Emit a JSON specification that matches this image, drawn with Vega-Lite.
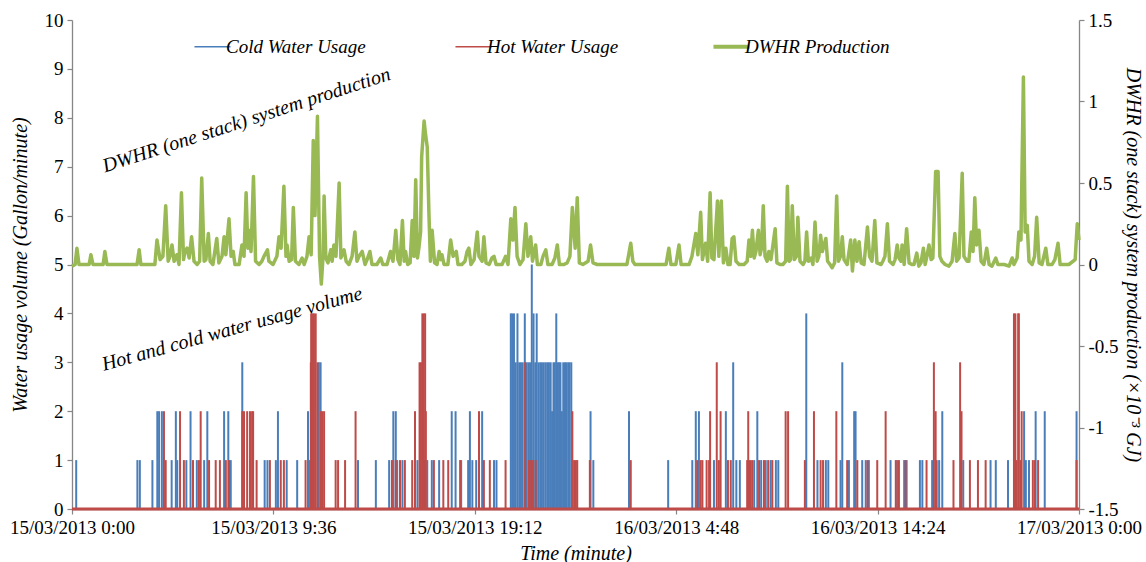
{
  "$schema": "https://vega.github.io/schema/vega-lite/v6.json",
  "width": 1007,
  "height": 489,
  "autosize": {"type": "none"},
  "padding": {"left": 72, "top": 20, "right": 67, "bottom": 53},
  "background": "white",
  "config": {
    "view": {"stroke": null},
    "font": "Liberation Serif, Times New Roman, serif",
    "axis": {
      "grid": false,
      "domainColor": "#868686",
      "tickColor": "#868686",
      "domainWidth": 1.3,
      "tickWidth": 1.2,
      "tickSize": 5,
      "labelColor": "black",
      "labelFont": "Liberation Serif, Times New Roman, serif",
      "labelFontSize": 19,
      "titleFont": "Liberation Serif, Times New Roman, serif",
      "titleFontSize": 20,
      "titleFontStyle": "italic",
      "titleFontWeight": "normal",
      "titleColor": "black"
    }
  },
  "datasets": {
    "cold": [
      {"t":12,"v":1},{"t":187,"v":1},{"t":194,"v":1},{"t":230,"v":1},{"t":244,"v":2},{"t":249,"v":2},{"t":257,"v":2},{"t":285,"v":1},{"t":297,"v":2},{"t":301,"v":1},{"t":327,"v":1},{"t":339,"v":2},{"t":357,"v":1},{"t":378,"v":1},{"t":387,"v":2},{"t":435,"v":2},{"t":447,"v":2},{"t":454,"v":1},{"t":487,"v":3},{"t":551,"v":1},{"t":559,"v":1},{"t":583,"v":1},{"t":589,"v":2},{"t":614,"v":1},{"t":644,"v":1},{"t":675,"v":2},{"t":706,"v":3},{"t":711,"v":3},{"t":818,"v":1},{"t":869,"v":1},{"t":907,"v":1},{"t":919,"v":2},{"t":926,"v":2},{"t":930,"v":1},{"t":945,"v":1},{"t":988,"v":1},{"t":1007,"v":1},{"t":1016,"v":1},{"t":1029,"v":1},{"t":1050,"v":1},{"t":1086,"v":2},{"t":1097,"v":2},{"t":1113,"v":1},{"t":1133,"v":1},{"t":1138,"v":2},{"t":1145,"v":1},{"t":1156,"v":1},{"t":1173,"v":2},{"t":1207,"v":1},{"t":1214,"v":1},
      {"t":1255,"v":4},{"t":1259,"v":4},{"t":1264,"v":4},{"t":1269,"v":3},{"t":1274,"v":4},{"t":1279,"v":3},{"t":1284,"v":3},{"t":1289,"v":3},{"t":1295,"v":4},{"t":1300,"v":3},{"t":1305,"v":3},{"t":1310,"v":3},{"t":1315,"v":5},{"t":1320,"v":4},{"t":1325,"v":3},{"t":1329,"v":4},{"t":1334,"v":3},{"t":1339,"v":3},{"t":1344,"v":3},{"t":1349,"v":3},{"t":1354,"v":3},{"t":1359,"v":3},{"t":1364,"v":3},{"t":1369,"v":3},{"t":1373,"v":2},{"t":1377,"v":3},{"t":1381,"v":3},{"t":1385,"v":4},{"t":1389,"v":3},{"t":1393,"v":3},{"t":1397,"v":3},{"t":1401,"v":2},{"t":1405,"v":3},{"t":1410,"v":3},{"t":1414,"v":3},{"t":1419,"v":3},{"t":1423,"v":3},{"t":1428,"v":3},
      {"t":1483,"v":2},{"t":1491,"v":1},{"t":1593,"v":2},{"t":1705,"v":1},{"t":1774,"v":1},{"t":1784,"v":2},{"t":1793,"v":2},{"t":1836,"v":1},{"t":1870,"v":2},{"t":1891,"v":3},{"t":1900,"v":1},{"t":1910,"v":1},{"t":1951,"v":1},{"t":1960,"v":2},{"t":1971,"v":1},{"t":1984,"v":1},{"t":1998,"v":1},{"t":2013,"v":1},{"t":2020,"v":1},{"t":2100,"v":4},{"t":2132,"v":1},{"t":2156,"v":1},{"t":2163,"v":1},{"t":2198,"v":1},{"t":2203,"v":3},{"t":2222,"v":1},{"t":2237,"v":2},{"t":2241,"v":2},{"t":2260,"v":1},{"t":2270,"v":1},{"t":2279,"v":1},{"t":2341,"v":1},{"t":2360,"v":1},{"t":2380,"v":1},{"t":2387,"v":1},{"t":2425,"v":1},{"t":2432,"v":1},{"t":2460,"v":1},{"t":2480,"v":1},{"t":2489,"v":2},{"t":2549,"v":1},{"t":2627,"v":1},{"t":2642,"v":1},{"t":2677,"v":1},{"t":2723,"v":2},{"t":2728,"v":1},{"t":2737,"v":1},{"t":2756,"v":2},{"t":2782,"v":2},{"t":2873,"v":2}
    ],
    "hot": [
      {"t":263,"v":2},{"t":268,"v":1},{"t":309,"v":2},{"t":320,"v":1},{"t":346,"v":1},{"t":363,"v":1},{"t":368,"v":2},{"t":392,"v":1},{"t":411,"v":1},{"t":423,"v":1},{"t":440,"v":1},{"t":449,"v":1},{"t":487,"v":2},{"t":492,"v":2},{"t":501,"v":2},{"t":509,"v":2},{"t":515,"v":2},{"t":518,"v":2},{"t":528,"v":1},{"t":566,"v":1},{"t":597,"v":1},{"t":606,"v":1},{"t":668,"v":1},{"t":681,"v":1},{"t":683,"v":3},{"t":684,"v":4},{"t":688,"v":4},{"t":692,"v":4},{"t":697,"v":4},{"t":702,"v":3},{"t":712,"v":2},{"t":716,"v":2},{"t":721,"v":2},{"t":754,"v":1},{"t":761,"v":1},{"t":781,"v":1},{"t":811,"v":2},{"t":915,"v":1},{"t":926,"v":1},{"t":938,"v":1},{"t":952,"v":1},{"t":973,"v":1},{"t":981,"v":2},{"t":994,"v":3},{"t":998,"v":3},{"t":1002,"v":4},{"t":1006,"v":4},{"t":1010,"v":4},{"t":1012,"v":2},{"t":1035,"v":1},{"t":1062,"v":1},{"t":1076,"v":1},{"t":1110,"v":1},{"t":1164,"v":2},{"t":1178,"v":1},{"t":1195,"v":1},{"t":1240,"v":1},{"t":1296,"v":3},{"t":1307,"v":1},{"t":1313,"v":1},{"t":1318,"v":1},{"t":1326,"v":1},{"t":1431,"v":2},{"t":1436,"v":1},{"t":1441,"v":1},{"t":1445,"v":1},{"t":1481,"v":1},{"t":1598,"v":1},{"t":1788,"v":1},{"t":1798,"v":1},{"t":1803,"v":1},{"t":1815,"v":1},{"t":1822,"v":1},{"t":1825,"v":2},{"t":1844,"v":3},{"t":1850,"v":1},{"t":1855,"v":2},{"t":1876,"v":1},{"t":1884,"v":1},{"t":1931,"v":1},{"t":1934,"v":2},{"t":1939,"v":1},{"t":1945,"v":1},{"t":1965,"v":1},{"t":1979,"v":1},{"t":1991,"v":1},{"t":2003,"v":1},{"t":2041,"v":2},{"t":2048,"v":2},{"t":2096,"v":1},{"t":2122,"v":2},{"t":2141,"v":1},{"t":2148,"v":1},{"t":2186,"v":2},{"t":2217,"v":1},{"t":2246,"v":1},{"t":2275,"v":1},{"t":2303,"v":1},{"t":2327,"v":2},{"t":2356,"v":1},{"t":2365,"v":1},{"t":2384,"v":1},{"t":2444,"v":1},{"t":2465,"v":3},{"t":2470,"v":2},{"t":2473,"v":1},{"t":2521,"v":1},{"t":2540,"v":3},{"t":2544,"v":2},{"t":2568,"v":1},{"t":2591,"v":1},{"t":2613,"v":1},{"t":2694,"v":4},{"t":2698,"v":4},{"t":2701,"v":1},{"t":2706,"v":4},{"t":2708,"v":4},{"t":2713,"v":1},{"t":2716,"v":2},{"t":2748,"v":1},{"t":2754,"v":1},{"t":2763,"v":1},{"t":2873,"v":1}
    ],
    "zero": [{"t":0,"v":0},{"t":2880,"v":0}],
    "dwhr": [
      {"t":0,"v":-0.01},{"t":9,"v":0},{"t":14,"v":0.1},{"t":20,"v":0},{"t":49,"v":0},{"t":54,"v":0.06},{"t":60,"v":0},{"t":89,"v":0},{"t":94,"v":0.08},{"t":100,"v":0},{"t":186,"v":0},{"t":192,"v":0.09},{"t":197,"v":0},{"t":237,"v":0},{"t":243,"v":0.15},{"t":252,"v":0.03},{"t":260,"v":0.05},{"t":268,"v":0.36},{"t":275,"v":0.02},{"t":280,"v":0.05},{"t":286,"v":0.12},{"t":292,"v":0.02},{"t":300,"v":0.06},{"t":306,"v":0},{"t":313,"v":0.44},{"t":319,"v":0.03},{"t":323,"v":0.08},{"t":329,"v":0.1},{"t":335,"v":0.04},{"t":342,"v":0.17},{"t":349,"v":0.02},{"t":358,"v":0},{"t":365,"v":0.02},{"t":371,"v":0.53},{"t":378,"v":0.02},{"t":383,"v":0.03},{"t":390,"v":0.19},{"t":395,"v":0.02},{"t":403,"v":0},{"t":414,"v":0.16},{"t":420,"v":0.01},{"t":429,"v":0.05},{"t":435,"v":0.17},{"t":440,"v":0.06},{"t":449,"v":0.28},{"t":455,"v":0.05},{"t":461,"v":0.08},{"t":466,"v":0},{"t":478,"v":0},{"t":486,"v":0.12},{"t":492,"v":0.05},{"t":498,"v":0.44},{"t":503,"v":0.1},{"t":506,"v":0.21},{"t":512,"v":0.08},{"t":519,"v":0.54},{"t":525,"v":0.02},{"t":535,"v":0},{"t":543,"v":0.02},{"t":549,"v":0.05},{"t":559,"v":0.09},{"t":563,"v":0.02},{"t":575,"v":0},{"t":586,"v":0.05},{"t":592,"v":0.17},{"t":598,"v":0.1},{"t":606,"v":0.48},{"t":612,"v":0.05},{"t":615,"v":0.12},{"t":621,"v":0.02},{"t":628,"v":0.03},{"t":633,"v":0.35},{"t":639,"v":0.02},{"t":649,"v":0},{"t":658,"v":0.04},{"t":664,"v":0},{"t":672,"v":0.05},{"t":678,"v":0.17},{"t":684,"v":0.06},{"t":690,"v":0.76},{"t":695,"v":0.3},{"t":702,"v":0.91},{"t":708,"v":0.05},{"t":713,"v":-0.12},{"t":718,"v":0.05},{"t":721,"v":0.42},{"t":726,"v":0.04},{"t":732,"v":0.01},{"t":740,"v":0.09},{"t":744,"v":0.02},{"t":749,"v":0.12},{"t":755,"v":0.05},{"t":764,"v":0.5},{"t":769,"v":0.04},{"t":778,"v":0.09},{"t":784,"v":0.02},{"t":792,"v":0},{"t":801,"v":0.05},{"t":809,"v":0.2},{"t":815,"v":0.02},{"t":821,"v":0.05},{"t":830,"v":0.08},{"t":838,"v":0},{"t":844,"v":0.03},{"t":852,"v":0.08},{"t":858,"v":0},{"t":872,"v":0},{"t":883,"v":0.04},{"t":889,"v":0},{"t":901,"v":0},{"t":911,"v":0.08},{"t":918,"v":0.02},{"t":926,"v":0.21},{"t":932,"v":0.03},{"t":938,"v":0},{"t":945,"v":0.27},{"t":950,"v":0.02},{"t":954,"v":0.08},{"t":960,"v":0},{"t":967,"v":0.01},{"t":973,"v":0.27},{"t":978,"v":0.05},{"t":983,"v":0.52},{"t":988,"v":0.04},{"t":992,"v":0.1},{"t":997,"v":0.2},{"t":1000,"v":0.66},{"t":1007,"v":0.88},{"t":1011,"v":0.8},{"t":1016,"v":0.72},{"t":1021,"v":0.3},{"t":1025,"v":0.02},{"t":1030,"v":0.21},{"t":1037,"v":0.01},{"t":1044,"v":0},{"t":1050,"v":0.08},{"t":1055,"v":0.03},{"t":1058,"v":0.06},{"t":1064,"v":0},{"t":1075,"v":0},{"t":1083,"v":0.15},{"t":1090,"v":0.05},{"t":1099,"v":0.08},{"t":1104,"v":0},{"t":1115,"v":0},{"t":1124,"v":0.02},{"t":1130,"v":0.08},{"t":1135,"v":0.1},{"t":1141,"v":0},{"t":1150,"v":0.03},{"t":1159,"v":0.2},{"t":1164,"v":0.05},{"t":1173,"v":0.02},{"t":1178,"v":0.17},{"t":1184,"v":0.01},{"t":1193,"v":0},{"t":1201,"v":0.04},{"t":1207,"v":0.05},{"t":1213,"v":0},{"t":1230,"v":0},{"t":1240,"v":0.05},{"t":1247,"v":0},{"t":1255,"v":0.28},{"t":1261,"v":0.15},{"t":1267,"v":0.35},{"t":1273,"v":0.05},{"t":1281,"v":0},{"t":1290,"v":0.03},{"t":1298,"v":0.25},{"t":1304,"v":0.05},{"t":1312,"v":0.17},{"t":1317,"v":0.02},{"t":1326,"v":0.12},{"t":1331,"v":0},{"t":1341,"v":0},{"t":1347,"v":0.05},{"t":1355,"v":0.09},{"t":1361,"v":0},{"t":1373,"v":0},{"t":1381,"v":0.04},{"t":1388,"v":0.12},{"t":1394,"v":0},{"t":1407,"v":0},{"t":1416,"v":0.01},{"t":1424,"v":0.05},{"t":1431,"v":0.35},{"t":1439,"v":0.1},{"t":1445,"v":0.41},{"t":1451,"v":0.01},{"t":1461,"v":0},{"t":1476,"v":0.02},{"t":1483,"v":0.12},{"t":1490,"v":0.01},{"t":1502,"v":0},{"t":1587,"v":0},{"t":1598,"v":0.13},{"t":1604,"v":0.02},{"t":1610,"v":0},{"t":1699,"v":0},{"t":1707,"v":0.1},{"t":1713,"v":0},{"t":1727,"v":0},{"t":1736,"v":0.12},{"t":1742,"v":0},{"t":1765,"v":0},{"t":1773,"v":0.05},{"t":1784,"v":0.19},{"t":1790,"v":0.06},{"t":1798,"v":0.32},{"t":1803,"v":0.03},{"t":1812,"v":0.13},{"t":1818,"v":0.02},{"t":1825,"v":0.44},{"t":1830,"v":0.04},{"t":1836,"v":0.03},{"t":1846,"v":0.39},{"t":1850,"v":0.05},{"t":1857,"v":0.39},{"t":1863,"v":0.01},{"t":1870,"v":0.1},{"t":1876,"v":0},{"t":1882,"v":0},{"t":1888,"v":0.16},{"t":1893,"v":0.17},{"t":1899,"v":0.02},{"t":1908,"v":0},{"t":1922,"v":0},{"t":1931,"v":0.02},{"t":1936,"v":0.15},{"t":1941,"v":0.05},{"t":1946,"v":0.21},{"t":1951,"v":0.04},{"t":1956,"v":0.08},{"t":1963,"v":0.21},{"t":1968,"v":0.06},{"t":1972,"v":0.1},{"t":1977,"v":0.36},{"t":1982,"v":0.05},{"t":1988,"v":0.02},{"t":1993,"v":0.08},{"t":1999,"v":0.03},{"t":2011,"v":0.22},{"t":2016,"v":0.01},{"t":2025,"v":0},{"t":2033,"v":0},{"t":2041,"v":0.02},{"t":2046,"v":0.48},{"t":2051,"v":0.02},{"t":2055,"v":0.03},{"t":2060,"v":0.36},{"t":2066,"v":0.03},{"t":2072,"v":0.05},{"t":2076,"v":0.29},{"t":2082,"v":0.02},{"t":2091,"v":0},{"t":2096,"v":0.02},{"t":2101,"v":0.2},{"t":2106,"v":0.02},{"t":2114,"v":0.04},{"t":2119,"v":0},{"t":2125,"v":0.26},{"t":2131,"v":0.02},{"t":2136,"v":0.05},{"t":2141,"v":0.18},{"t":2146,"v":0.08},{"t":2156,"v":0.16},{"t":2161,"v":0.02},{"t":2168,"v":0},{"t":2174,"v":-0.02},{"t":2181,"v":0.01},{"t":2187,"v":0.42},{"t":2192,"v":0.02},{"t":2198,"v":0.05},{"t":2203,"v":0.17},{"t":2208,"v":0.03},{"t":2217,"v":0},{"t":2227,"v":0.15},{"t":2232,"v":-0.04},{"t":2239,"v":0.15},{"t":2245,"v":0.02},{"t":2251,"v":0.14},{"t":2257,"v":0.01},{"t":2265,"v":0},{"t":2275,"v":0.23},{"t":2281,"v":0.05},{"t":2288,"v":0.02},{"t":2296,"v":0.27},{"t":2302,"v":0.01},{"t":2314,"v":0},{"t":2319,"v":0.02},{"t":2325,"v":0.05},{"t":2332,"v":0.25},{"t":2338,"v":0.02},{"t":2348,"v":0},{"t":2354,"v":0.03},{"t":2360,"v":0.12},{"t":2365,"v":0.04},{"t":2371,"v":0.02},{"t":2374,"v":0.12},{"t":2380,"v":0},{"t":2387,"v":0.22},{"t":2394,"v":0.01},{"t":2402,"v":0},{"t":2408,"v":0},{"t":2416,"v":0.07},{"t":2422,"v":-0.01},{"t":2428,"v":0.01},{"t":2435,"v":0.1},{"t":2440,"v":0},{"t":2445,"v":0.05},{"t":2451,"v":0.12},{"t":2457,"v":0.03},{"t":2462,"v":0.04},{"t":2470,"v":0.57},{"t":2477,"v":0.57},{"t":2482,"v":0.05},{"t":2488,"v":0.02},{"t":2497,"v":0},{"t":2508,"v":-0.01},{"t":2517,"v":0.02},{"t":2525,"v":0.19},{"t":2530,"v":0.02},{"t":2537,"v":0.04},{"t":2546,"v":0.56},{"t":2551,"v":0.05},{"t":2560,"v":0.02},{"t":2565,"v":0.02},{"t":2572,"v":0.2},{"t":2577,"v":0.08},{"t":2582,"v":0.41},{"t":2587,"v":0.12},{"t":2594,"v":0.21},{"t":2600,"v":0.02},{"t":2608,"v":0},{"t":2616,"v":0.1},{"t":2623,"v":0},{"t":2631,"v":-0.01},{"t":2642,"v":0.04},{"t":2648,"v":0},{"t":2666,"v":0},{"t":2680,"v":-0.01},{"t":2689,"v":0.04},{"t":2694,"v":0},{"t":2703,"v":0.04},{"t":2708,"v":0.2},{"t":2714,"v":0.15},{"t":2721,"v":1.15},{"t":2726,"v":0.2},{"t":2732,"v":0.24},{"t":2737,"v":0.02},{"t":2746,"v":0},{"t":2753,"v":0.05},{"t":2759,"v":0.29},{"t":2766,"v":0.01},{"t":2774,"v":0},{"t":2785,"v":0.1},{"t":2791,"v":0},{"t":2803,"v":0},{"t":2811,"v":0.03},{"t":2820,"v":0.13},{"t":2826,"v":0},{"t":2851,"v":0},{"t":2869,"v":0.03},{"t":2875,"v":0.25},{"t":2880,"v":0.15}
    ],
    "notes": [
      {"t":499,"v":7.95,"label":"DWHR (one stack) system production","kind":"dwhr"},
      {"t":458,"v":3.68,"label":"Hot and cold water usage volume","kind":"water"}
    ]
  },
  "encoding": {
    "x": {
      "field": "t",
      "type": "quantitative",
      "scale": {"domain": [0, 2880], "nice": false, "zero": false},
      "axis": {
        "title": "Time (minute)",
        "values": [0, 576, 1152, 1728, 2304, 2880],
        "labelExpr": "timeFormat(datetime(2013, 2, 15, 0, datum.value), '%d/%m/%Y %-H:%M')",
        "labelFlush": false,
        "labelOverlap": false,
        "labelPadding": 4,
        "titlePadding": 6
      }
    }
  },
  "layer": [
    {
      "encoding": {
        "y": {
          "field": "v",
          "type": "quantitative",
          "scale": {"domain": [0, 10], "nice": false},
          "axis": {
            "title": "Water usage volume (Gallon/minute)",
            "values": [0, 1, 2, 3, 4, 5, 6, 7, 8, 9, 10],
            "labelPadding": 4,
            "titlePadding": 14
          }
        }
      },
      "layer": [
        {
          "data": {"name": "cold"},
          "mark": {"type": "rule", "strokeWidth": 2},
          "encoding": {
            "y2": {"datum": 0},
            "color": {
              "datum": "Cold Water Usage",
              "scale": {
                "domain": ["Cold Water Usage", "Hot Water Usage", "DWHR Production"],
                "range": ["#4A7EBB", "#BE4B48", "#98B954"]
              },
              "legend": {
                "title": null,
                "orient": "none",
                "legendX": 131,
                "legendY": 17,
                "direction": "horizontal",
                "symbolType": "stroke",
                "symbolSize": 1300,
                "symbolStrokeWidth": 1.5,
                "labelFont": "Liberation Serif, Times New Roman, serif",
                "labelFontSize": 19,
                "labelFontStyle": "italic",
                "labelColor": "black",
                "labelOffset": 4,
                "columnPadding": 86,
                "encode": {
                  "symbols": {
                    "update": {
                      "strokeWidth": {"signal": "datum.value === 'DWHR Production' ? 4 : 1.5"}
                    }
                  }
                }
              }
            }
          }
        },
        {
          "data": {"name": "hot"},
          "mark": {"type": "rule", "strokeWidth": 2},
          "encoding": {
            "y2": {"datum": 0},
            "color": {"datum": "Hot Water Usage"}
          }
        },
        {
          "data": {"name": "zero"},
          "mark": {"type": "line", "color": "#BE4B48", "strokeWidth": 3},
          "encoding": {}
        },
        {
          "data": {"name": "notes"},
          "transform": [{"filter": "datum.kind === 'dwhr'"}],
          "mark": {"type": "text", "angle": 342, "font": "Liberation Serif, Times New Roman, serif", "fontSize": 20, "fontStyle": "italic", "align": "center", "baseline": "middle", "color": "black"},
          "encoding": {"text": {"field": "label"}}
        },
        {
          "data": {"name": "notes"},
          "transform": [{"filter": "datum.kind === 'water'"}],
          "mark": {"type": "text", "angle": 344.5, "font": "Liberation Serif, Times New Roman, serif", "fontSize": 20, "fontStyle": "italic", "align": "center", "baseline": "middle", "color": "black"},
          "encoding": {"text": {"field": "label"}}
        }
      ]
    },
    {
      "data": {"name": "dwhr"},
      "mark": {"type": "line", "strokeWidth": 3.5, "strokeJoin": "round"},
      "encoding": {
        "y": {
          "field": "v",
          "type": "quantitative",
          "scale": {"domain": [-1.5, 1.5], "nice": false, "zero": false},
          "axis": {
            "orient": "right",
            "title": "DWHR (one stack) system production (×10⁻³ GJ)",
            "values": [-1.5, -1, -0.5, 0, 0.5, 1, 1.5],
            "labelExpr": "datum.value + ''",
            "labelPadding": 4,
            "titlePadding": 4
          }
        },
        "color": {"datum": "DWHR Production"}
      }
    }
  ],
  "resolve": {"scale": {"y": "independent"}}
}
